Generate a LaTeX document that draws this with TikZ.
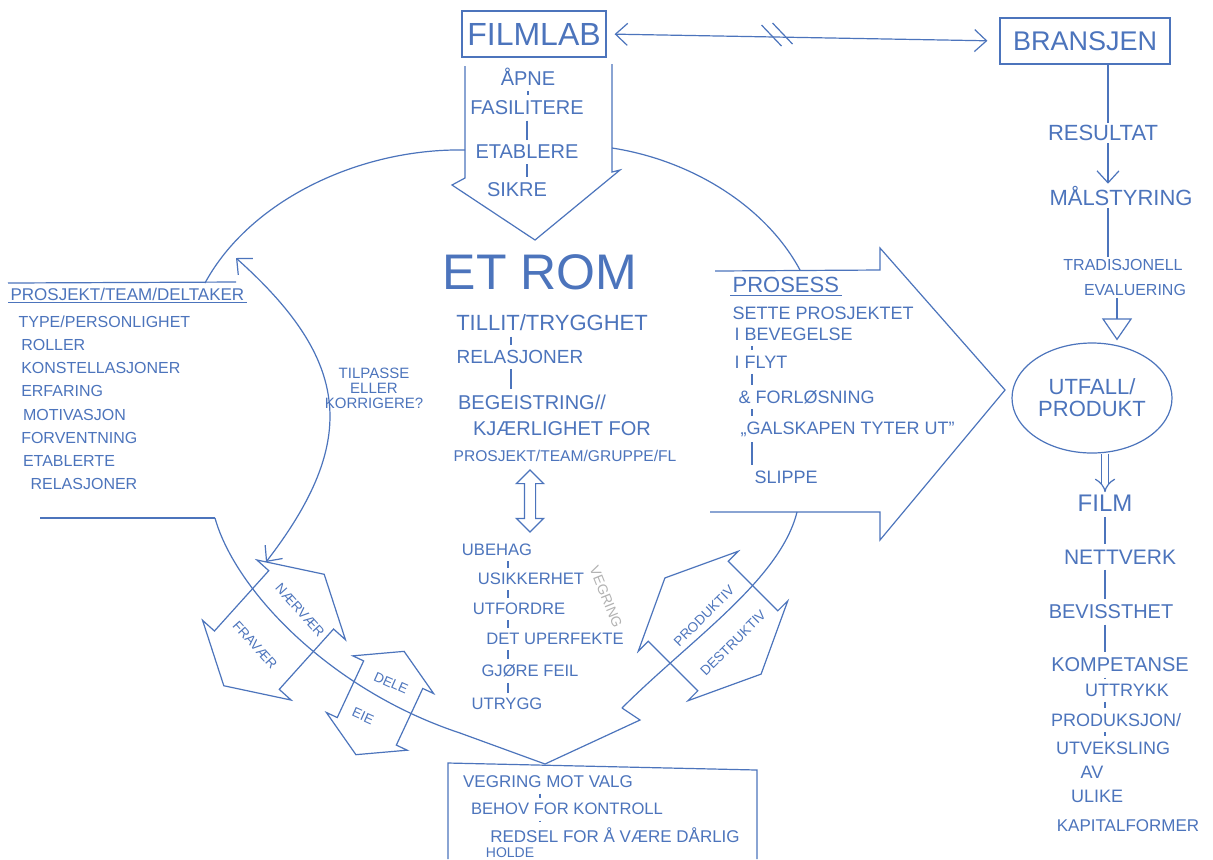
\documentclass[tikz,border=0pt]{standalone}
\usepackage{fontspec}
\setmainfont{Liberation Sans}
\usepackage{xcolor}
\usepackage{tikz}
\usetikzlibrary{
	arrows.meta,
	calc,
	positioning,
	shapes.geometric,
	shapes.arrows
}
\definecolor{ink}{RGB}{76,116,188}

\begin{document}
\begin{tikzpicture}[x=0.5pt, y=-0.5pt, color=ink, line width=0.6pt,
		every node/.style={inner sep=1pt},
		sz/.style={font=\fontsize{#1}{#1}\selectfont},
		bar/.style={shorten <=1.5pt, shorten >=1.5pt},
		barb/.tip={Straight Barb[length=6pt, width=11pt]},
		flip/.style={double arrow, draw, inner xsep=0pt, double arrow head indent=0pt}]
		\fill[white] (0,0) rectangle (1213,859);
		\useasboundingbox (0,0) rectangle (1213,859);
		
		% topp
		\node[draw, minimum width=72pt, minimum height=23pt, sz=16] (filmlab) at (534,34) {FILMLAB};
		\node[draw, minimum width=85pt, minimum height=23pt, sz=13.5] (bransjen) at (1085,41) {BRANSJEN};
		\draw[barb-barb, shorten <=4pt, shorten >=6pt] (filmlab.east) -- coordinate[pos=0.43] (brudd) (bransjen.west);
		\draw ($(brudd)+(-14,-12)$) -- ($(brudd)+(6,9)$);
		\draw ($(brudd)+(-3,-14)$) -- ($(brudd)+(17,7)$);
		
		% pil ned fra filmlab
		\draw (612,64) -- (612,172) -- (620,170) -- (535,240) -- (452,185) -- (465,178) -- (465,66);
		\node[sz=10] (apne) at (528,77) {ÅPNE};
		\node[sz=10] (fasil) at (527,108) {FASILITERE};
		\node[sz=10] (etabl) at (527,152) {ETABLERE};
		\node[sz=10] (sikre) at (517,190) {SIKRE};
		\foreach \a/\b in {apne/fasil, fasil/etabl, etabl/sikre}
			\draw[bar] (\a.south) -- (\a.south |- \b.north);
		
		% sirkelen
		\draw (205,283) .. controls (250,200) and (360,148) .. (465,150);
		\draw (612,148) .. controls (690,160) and (765,205) .. (800,270);
		\draw (797,512) .. controls (780,580) and (690,640) .. (622,708);
		\draw (215,518) .. controls (235,590) and (330,690) .. (460,733);
		\draw (622,708) -- (640,720) -- (545,764) -- (460,733);
		
		% midten
		\node[sz=25] (etrom) at (540,272) {ET ROM};
		\node[sz=11] (tillit) at (552,323) {TILLIT/TRYGGHET};
		\node[sz=9.5] (relasj) at (520,357) {RELASJONER};
		\node[sz=10] (begeis) at (532,402) {BEGEISTRING//};
		\node[sz=10] (kjaer) at (562,429) {KJÆRLIGHET FOR};
		\node[sz=7.8] (gruppe) at (565,456) {PROSJEKT/TEAM/GRUPPE/FL};
		\coordinate (rcol) at (511,0);
		\foreach \a/\b in {tillit/relasj, relasj/begeis}
			\draw[bar] (\a.south -| rcol) -- (\b.north -| rcol);
		\node[flip, rotate=90, minimum height=31pt, inner ysep=2.5pt, double arrow head extend=4pt] (veksel) at (530,501) {};
		
		\node[sz=8.3] (ubehag) at (497,550) {UBEHAG};
		\node[sz=8.3] (usikker) at (531,579) {USIKKERHET};
		\node[sz=8.3] (utford) at (519,609) {UTFORDRE};
		\node[sz=8.3] (uperf) at (555,639) {DET UPERFEKTE};
		\node[sz=8.3] (feil) at (530,671) {GJØRE FEIL};
		\node[sz=8.3] (utrygg) at (507,704) {UTRYGG};
		\coordinate (ucol) at (508,0);
		\foreach \a/\b in {ubehag/usikker, usikker/utford, utford/uperf, uperf/feil, feil/utrygg}
			\draw[bar] (\a.south -| ucol) -- (\b.north -| ucol);
		\node[rotate=-68, text=black!30, sz=7] (vegrgraa) at (606,597) {VEGRING};
		
		% boksen nederst
		\draw (448,859) -- (448,763) -- (757,770) -- (757,859);
		\node[sz=8.5] (valg) at (548,782) {VEGRING MOT VALG};
		\node[sz=8.3] (behov) at (567,809) {BEHOV FOR KONTROLL};
		\node[sz=8.5] (redsel) at (615,835) {REDSEL FOR Å VÆRE DÅRLIG};
		\node[sz=7] (holde) at (510,853) {HOLDE};
		\coordinate (vcol) at (540,0);
		\foreach \a/\b in {valg/behov, behov/redsel}
			\draw[bar] (\a.south -| vcol) -- (\b.north -| vcol);
		
		% prosess
		\draw (715,271) -- (880,270) -- (880,248) -- (1005,390) -- (880,540) -- (880,512) -- (710,512);
		\node[sz=11, anchor=west] (prosess) at (730,285) {PROSESS};
		\draw (prosess.south west) -- (prosess.south east);
		\node[sz=9, anchor=west] (sette) at (730,313) {SETTE PROSJEKTET};
		\node[sz=9, anchor=west] (beveg) at (732,334) {I BEVEGELSE};
		\node[sz=9, anchor=west] (flyt) at (732,362) {I FLYT};
		\node[sz=9, anchor=west] (forl) at (736,397) {\& FORLØSNING};
		\node[sz=9, anchor=west] (galsk) at (738,429) {„GALSKAPEN TYTER UT”};
		\node[sz=9, anchor=west] (slippe) at (752,477) {SLIPPE};
		\coordinate (pcol) at (752,0);
		\foreach \a/\b in {beveg/flyt, flyt/forl, forl/galsk, galsk/slippe}
			\draw[bar] (\a.south -| pcol) -- (\b.north -| pcol);
		
		% venstre boks
		\draw (8,283) -- (236,282);
		\node[sz=8.5, anchor=west] (deltaker) at (8,294) {PROSJEKT/TEAM/DELTAKER};
		\draw (deltaker.south west) -- (deltaker.south east);
		\node[anchor=north west, align=left, font=\fontsize{8}{11.6}\selectfont] (typer) at (16,313)
			{TYPE/PERSONLIGHET\\ \,ROLLER\\ \,KONSTELLASJONER\\ \,ERFARING\\ \;MOTIVASJON\\ \,FORVENTNING\\ \;ETABLERTE\\ \hspace{6pt}RELASJONER};
		\draw (40,518) -- (215,518);
		
		% tilpasse
		\coordinate (tpA) at (236,258);
		\coordinate (tpB) at (266,562);
		\draw[barb-barb] (tpA) .. controls (350,360) and (360,440) .. (tpB);
		\node[sz=7.5, align=center] (tilpasse) at (374,388) {TILPASSE\\ELLER\\KORRIGERE?};
		
		% doble piler langs sirkelen
		\node[flip, rotate=48, minimum height=75pt, inner ysep=21.5pt, double arrow head extend=8pt, double arrow tip angle=120] (naer) at (274,630) {};
		\node[rotate=-48, sz=6.8] (naervaer) at (300,610) {NÆRVÆR};
		\node[rotate=-48, sz=6.8] (fravaer) at (255,645) {FRAVÆR};
		\node[flip, rotate=65, minimum height=57pt, inner ysep=16pt, double arrow head extend=6pt, double arrow tip angle=120] (deling) at (380,703) {};
		\node[rotate=-24, sz=6.8] (dele) at (391,683) {DELE};
		\node[rotate=-24, sz=6.8] (eie) at (363,716) {EIE};
		\node[flip, rotate=-45, minimum height=68pt, inner ysep=28pt, double arrow head extend=7pt, double arrow tip angle=130] (prod) at (713,626) {};
		\node[rotate=45, sz=6.8] (produktiv) at (704,616) {PRODUKTIV};
		\node[rotate=45, sz=6.8] (destruktiv) at (733,643) {DESTRUKTIV};
		
		% bransjen
		\node[sz=11] (result) at (1103,133) {RESULTAT};
		\node[sz=11] (malst) at (1121,196) {MÅLSTYRING};
		\node[sz=8] (trad) at (1123,265) {TRADISJONELL};
		\node[sz=8] (evalu) at (1135,290) {EVALUERING};
		\node[ellipse, draw, minimum width=80pt, minimum height=55pt, sz=11, align=center] (utfall) at (1092,398) {UTFALL/\\PRODUKT};
		\coordinate (bcol) at (1108,0);
		\coordinate (tcol) at (1117,0);
		\coordinate (fcol) at (1105,0);
		\draw (bransjen.south -| bcol) -- (result.north -| bcol);
		\draw[-barb] (result.south -| bcol) -- (malst.north -| bcol);
		\draw (malst.south -| bcol) -- (trad.north -| bcol);
		\draw[-{Triangle[open, length=11pt, width=15pt]}, shorten >=1pt] (evalu.south -| tcol) -- (utfall.north -| tcol);
		
		\node[sz=12] (film) at (1105,503) {FILM};
		\node[sz=10.5] (nett) at (1120,557) {NETTVERK};
		\node[sz=10] (bevisst) at (1111,612) {BEVISSTHET};
		\node[sz=10] (komp) at (1120,665) {KOMPETANSE};
		\node[sz=9] (uttr) at (1127,690) {UTTRYKK};
		\node[sz=9] (produk) at (1116,720) {PRODUKSJON/};
		\node[sz=9] (utveks) at (1113,748) {UTVEKSLING};
		\node[sz=9] (av) at (1092,772) {AV};
		\node[sz=9] (ulike) at (1097,796) {ULIKE};
		\node[sz=8.5] (kapital) at (1128,826) {KAPITALFORMER};
		\draw[double, double distance=3pt, -{Implies}] (utfall.south -| fcol) -- (film.north -| fcol);
		\foreach \a/\b in {film/nett, nett/bevisst, bevisst/komp, komp/uttr, uttr/produk, produk/utveks}
			\draw[bar] (\a.south -| fcol) -- (\b.north -| fcol);
	\end{tikzpicture}
\end{document}
